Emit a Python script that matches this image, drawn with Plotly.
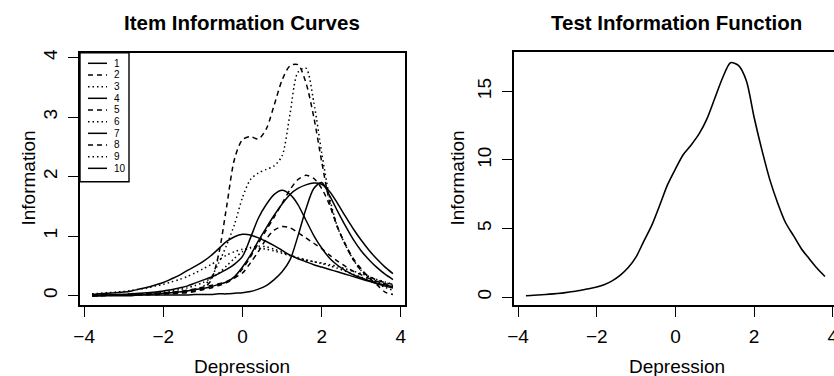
import plotly.graph_objects as go

# ---------------- data ----------------
theta = [-3.8, -3.6, -3.4, -3.2, -3.0, -2.8, -2.6, -2.4, -2.2, -2.0,
         -1.8, -1.6, -1.4, -1.2, -1.0, -0.8, -0.6, -0.4, -0.2, 0.0,
         0.2, 0.4, 0.6, 0.8, 1.0, 1.2, 1.4, 1.6, 1.8, 2.0,
         2.2, 2.4, 2.6, 2.8, 3.0, 3.2, 3.4, 3.6, 3.8]

item_labels = ["1", "2", "3", "4", "5", "6", "7", "8", "9", "10"]
item_dash = ["solid", "dash", "dot", "solid", "dash", "dot", "solid", "dash", "dot", "solid"]

item1 = [0.02, 0.03, 0.04, 0.05, 0.06, 0.08, 0.11, 0.14, 0.18, 0.22,
         0.28, 0.34, 0.42, 0.49, 0.57, 0.67, 0.79, 0.91, 0.99, 1.03,
         1.02, 0.97, 0.91, 0.84, 0.76, 0.68, 0.62, 0.57, 0.52, 0.48,
         0.44, 0.40, 0.36, 0.32, 0.28, 0.24, 0.20, 0.16, 0.13]
item2 = [0.01, 0.01, 0.01, 0.01, 0.02, 0.02, 0.03, 0.03, 0.04, 0.05,
         0.06, 0.07, 0.09, 0.11, 0.14, 0.17, 0.20, 0.24, 0.30, 0.38,
         0.55, 0.74, 0.95, 1.10, 1.16, 1.14, 1.06, 0.97, 0.88, 0.79,
         0.68, 0.58, 0.49, 0.41, 0.35, 0.29, 0.24, 0.20, 0.17]
item3 = [0.03, 0.04, 0.05, 0.06, 0.07, 0.09, 0.11, 0.13, 0.16, 0.19,
         0.23, 0.27, 0.32, 0.38, 0.45, 0.52, 0.60, 0.68, 0.74, 0.78,
         0.80, 0.80, 0.78, 0.75, 0.71, 0.67, 0.63, 0.60, 0.57, 0.55,
         0.52, 0.49, 0.45, 0.41, 0.37, 0.32, 0.27, 0.23, 0.19]
item4 = [0.01, 0.01, 0.01, 0.02, 0.02, 0.03, 0.04, 0.05, 0.06, 0.08,
         0.10, 0.13, 0.16, 0.21, 0.26, 0.31, 0.37, 0.44, 0.53, 0.66,
         0.97, 1.30, 1.53, 1.70, 1.77, 1.70, 1.53, 1.27, 1.01, 0.80,
         0.63, 0.51, 0.42, 0.35, 0.30, 0.25, 0.21, 0.18, 0.15]
item5 = [0.00, 0.00, 0.01, 0.01, 0.01, 0.01, 0.02, 0.02, 0.02, 0.03,
         0.04, 0.05, 0.06, 0.08, 0.10, 0.13, 0.17, 0.22, 0.30, 0.45,
         0.65, 0.88, 1.10, 1.32, 1.55, 1.78, 1.95, 2.02, 1.97, 1.80,
         1.52, 1.15, 0.85, 0.60, 0.42, 0.32, 0.26, 0.22, 0.19]
item6 = [0.01, 0.01, 0.01, 0.02, 0.02, 0.03, 0.03, 0.04, 0.05, 0.06,
         0.08, 0.10, 0.13, 0.17, 0.22, 0.29, 0.38, 0.50, 0.63, 0.74,
         0.81, 0.83, 0.82, 0.78, 0.73, 0.68, 0.64, 0.60, 0.57, 0.54,
         0.50, 0.46, 0.41, 0.36, 0.31, 0.27, 0.23, 0.19, 0.15]
item7 = [0.00, 0.00, 0.01, 0.01, 0.01, 0.01, 0.02, 0.02, 0.03, 0.04,
         0.05, 0.06, 0.08, 0.10, 0.12, 0.15, 0.19, 0.23, 0.32, 0.48,
         0.68, 0.92, 1.14, 1.35, 1.54, 1.70, 1.80, 1.86, 1.89, 1.87,
         1.75, 1.55, 1.33, 1.12, 0.93, 0.76, 0.61, 0.48, 0.37]
item8 = [0.00, 0.00, 0.00, 0.01, 0.01, 0.01, 0.01, 0.02, 0.02, 0.03,
         0.03, 0.04, 0.05, 0.07, 0.12, 0.25, 0.70, 1.50, 2.30, 2.62,
         2.67, 2.63, 2.80, 3.20, 3.62, 3.86, 3.88, 3.58, 3.00, 2.25,
         1.57, 1.15, 0.86, 0.62, 0.45, 0.30, 0.18, 0.06, 0.02]
item9 = [0.00, 0.00, 0.01, 0.01, 0.01, 0.01, 0.02, 0.02, 0.03, 0.04,
         0.05, 0.06, 0.08, 0.11, 0.15, 0.30, 0.55, 0.85, 1.20, 1.65,
         1.95, 2.06, 2.12, 2.18, 2.35, 3.05, 3.75, 3.82, 3.25, 2.40,
         1.65, 1.15, 0.85, 0.60, 0.42, 0.30, 0.20, 0.14, 0.09]
item10 = [0.00, 0.00, 0.00, 0.00, 0.00, 0.00, 0.01, 0.01, 0.01, 0.01,
          0.01, 0.01, 0.01, 0.02, 0.02, 0.02, 0.03, 0.03, 0.04, 0.05,
          0.07, 0.11, 0.17, 0.27, 0.40, 0.60, 1.00, 1.45, 1.80, 1.90,
          1.68, 1.42, 1.17, 0.94, 0.75, 0.60, 0.47, 0.36, 0.27]

test_info = [0.10, 0.13, 0.17, 0.21, 0.26, 0.32, 0.40, 0.50, 0.60, 0.73,
             0.92, 1.20, 1.60, 2.15, 2.93, 4.10, 5.25, 6.70, 8.20, 9.35,
             10.40, 11.10, 11.90, 13.00, 14.50, 16.00, 17.10, 16.90, 15.80, 13.10,
             10.70, 8.55, 6.85, 5.42, 4.48, 3.53, 2.80, 2.10, 1.50]

items = [item1, item2, item3, item4, item5, item6, item7, item8, item9, item10]

x_ticks = [-4, -2, 0, 2, 4]
y1_ticks = [0, 1, 2, 3, 4]
y2_ticks = [0, 5, 10, 15]

# ---------------- layout helpers ----------------
W, H = 834, 376
FONT = "Liberation Sans, Arial, Helvetica, sans-serif"

def px(x):
    return x / W

def py(y):
    return 1 - y / H

dash_map = {"solid": "solid", "dash": "5px,4px", "dot": "1.5px,3px"}

fig = go.Figure()

for lab, vals, d in zip(item_labels, items, item_dash):
    fig.add_trace(go.Scatter(
        x=theta, y=vals, mode="lines", name=lab,
        line=dict(color="black", width=1.5, dash=dash_map[d], shape="spline", smoothing=0.8),
        xaxis="x", yaxis="y", showlegend=False))

fig.add_trace(go.Scatter(
    x=theta, y=test_info, mode="lines", name="Test",
    line=dict(color="black", width=1.6, shape="spline", smoothing=0.8),
    xaxis="x2", yaxis="y2", showlegend=False))

axis_common = dict(
    showgrid=False, zeroline=False, showline=True, linecolor="black", linewidth=1.6,
    ticks="outside", ticklen=10, tickwidth=1.2, tickcolor="black", automargin=False,
    ticklabeloverflow="allow",
    tickfont=dict(family=FONT, size=19, color="black"),
)

fig.update_layout(
    width=W, height=H,
    margin=dict(l=0, r=0, t=0, b=0, autoexpand=False),
    paper_bgcolor="white", plot_bgcolor="white",
    xaxis=dict(domain=[px(80), px(405)], range=[-4.104, 4.104], tickvals=x_ticks,
               mirror=True, anchor="y", ticklabelstandoff=3, **axis_common),
    yaxis=dict(domain=[py(305), py(52.7)], range=[-0.157, 4.08], tickvals=y1_ticks,
               mirror=True, anchor="x", tickangle=-90, ticklabelstandoff=4, **axis_common),
    xaxis2=dict(domain=[px(514), 1.0], range=[-4.104, 4.03], tickvals=x_ticks,
                mirror=True, anchor="y2", ticklabelstandoff=3, **axis_common),
    yaxis2=dict(domain=[py(305), py(51.7)], range=[-0.58, 17.9], tickvals=y2_ticks,
                mirror=False, anchor="x2", tickangle=-90, ticklabelstandoff=4, **axis_common),
)

annotations = []
# titles
annotations.append(dict(text="<b>Item Information Curves</b>", x=px(242), y=py(22),
                        xref="paper", yref="paper", showarrow=False,
                        font=dict(family=FONT, size=20.5, color="black"),
                        xanchor="center", yanchor="middle"))
annotations.append(dict(text="<b>Test Information Function</b>", x=px(676), y=py(22),
                        xref="paper", yref="paper", showarrow=False,
                        font=dict(family=FONT, size=20.5, color="black"),
                        xanchor="center", yanchor="middle"))
# axis titles
for cx in (242, 677):
    annotations.append(dict(text="Depression", x=px(cx), y=py(366),
                            xref="paper", yref="paper", showarrow=False,
                            font=dict(family=FONT, size=19, color="black"),
                            xanchor="center", yanchor="middle"))
for cx in (28, 457):
    annotations.append(dict(text="Information", x=px(cx), y=py(178.5),
                            xref="paper", yref="paper", showarrow=False, textangle=-90,
                            font=dict(family=FONT, size=19, color="black"),
                            xanchor="center", yanchor="middle"))

# legend (drawn manually inside the left panel)
shapes = []
leg_x0, leg_x1, leg_y0, leg_y1 = 80, 129, 52.7, 181.7
shapes.append(dict(type="rect", xref="paper", yref="paper",
                   x0=px(leg_x0), x1=px(leg_x1), y0=py(leg_y1), y1=py(leg_y0),
                   line=dict(color="black", width=1.4), fillcolor="rgba(0,0,0,0)"))
row0, step = 63.3, 11.67
for i, (lab, d) in enumerate(zip(item_labels, item_dash)):
    yy = row0 + step * i
    shapes.append(dict(type="line", xref="paper", yref="paper",
                       x0=px(88), x1=px(107), y0=py(yy), y1=py(yy),
                       line=dict(color="black", width=1.5, dash=dash_map[d])))
    annotations.append(dict(text=lab, x=px(112), y=py(yy), xref="paper", yref="paper",
                            showarrow=False, xanchor="left", yanchor="middle",
                            font=dict(family=FONT, size=10, color="black")))

fig.update_layout(annotations=annotations, shapes=shapes)

fig.write_html(
    "out.html",
    config={"displayModeBar": False},
    post_script="document.body.style.margin='0px';document.body.style.padding='0px';"
                "document.body.style.overflow='hidden';",
)
